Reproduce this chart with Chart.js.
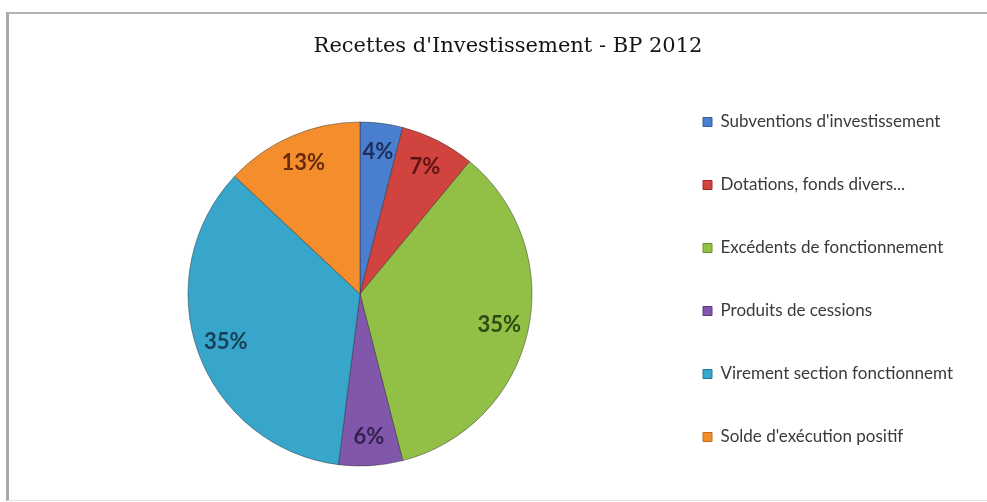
<!DOCTYPE html>
<html>
<head>
<meta charset="utf-8">
<script src="https://cdn.jsdelivr.net/npm/chart.js@4.4.1/dist/chart.umd.min.js"></script>
<style>
  html, body { margin: 0; background: #fff; }
  #frame { position: absolute; left: 6px; top: 12px; width: 990px; height: 486px;
           border-left: 3px solid #a9a9a9; border-top: 2px solid #b4b4b4; border-bottom: 1px solid #e4e4e4; }
  #wrap { position: absolute; left: 9px; top: 14px; width: 978px; height: 486px; }
</style>
</head>
<body>
<div id="frame"></div>
<div id="wrap"><canvas id="pieChart"></canvas></div>
<script>
'use strict';

const categories = [
  "Subventions d'investissement",
  'Dotations, fonds divers...',
  'Excédents de fonctionnement',
  'Produits de cessions',
  'Virement section fonctionnemt',
  "Solde d'exécution positif",
];
const shares = [4, 7, 35, 6, 35, 13];

const baseColors  = ['#4A7FD0', '#D1433F', '#92BF45', '#8157AC', '#38A5CB', '#F48E2C'];
const lightColors = ['#7FA8E6', '#E67572', '#B5DA72', '#A683CC', '#6FC6E2', '#FBB168'];
const darkColors  = ['#2F5C9E', '#9E2A27', '#6A9128', '#5C3A82', '#22789A', '#C8681A'];
const textColors  = ['#1B2F5C', '#5C1414', '#2F4A12', '#35204F', '#173E55', '#6A2A0C'];

function sliceFill(ctx) {
  const i = ctx.dataIndex;
  const chart = ctx.chart;
  const arc = chart.getDatasetMeta(0).data[i];
  if (!arc || !arc.outerRadius) return baseColors[i];
  const {x, y, outerRadius: r} = arc;
  const g = chart.ctx.createRadialGradient(x - r * 0.15, y - r * 0.25, r * 0.05, x, y, r);
  g.addColorStop(0, lightColors[i]);
  g.addColorStop(0.6, baseColors[i]);
  g.addColorStop(1, darkColors[i]);
  return g;
}

// percentages written on the slices
const sliceLabels = {
  id: 'sliceLabels',
  afterDatasetsDraw(chart) {
    const ctx = chart.ctx;
    ctx.save();
    ctx.font = 'bold 22px Lato';
    ctx.textAlign = 'center';
    ctx.textBaseline = 'middle';
    chart.getDatasetMeta(0).data.forEach((arc, i) => {
      const {x, y, startAngle, endAngle, outerRadius} = arc.getProps(['x', 'y', 'startAngle', 'endAngle', 'outerRadius'], true);
      const mid = (startAngle + endAngle) / 2;
      const d = outerRadius * 0.83;
      ctx.fillStyle = textColors[i];
      ctx.fillText(shares[i] + '%', x + Math.cos(mid) * d, y + Math.sin(mid) * d);
    });
    ctx.restore();
  },
};

new Chart(document.getElementById('pieChart'), {
  type: 'pie',
  data: {
    labels: categories,
    datasets: [{
      data: shares,
      backgroundColor: sliceFill,
      borderColor: 'rgba(40,40,40,0.45)',
      borderWidth: 1,
      radius: 172,
    }],
  },
  options: {
    responsive: true,
    maintainAspectRatio: false,
    animation: false,
    devicePixelRatio: 1,
    layout: { padding: { left: 54, right: 34, top: 0, bottom: 8.5 } },
    plugins: {
      tooltip: { enabled: false },
      title: {
        display: true,
        text: "Recettes d'Investissement - BP 2012",
        color: '#141414',
        font: { family: 'DejaVu Serif', size: 21, weight: 'normal' },
        padding: { top: 20, bottom: 37.3 },
      },
      legend: {
        position: 'right',
        align: 'end',
        maxWidth: 296,
        labels: {
          color: '#3a3a3a',
          font: { family: 'Lato', size: 17 },
          boxWidth: 9,
          boxHeight: 9,
          padding: 46,
          generateLabels(chart) {
            const items = Chart.overrides.pie.plugins.legend.labels.generateLabels(chart);
            return items.map((it, i) => Object.assign(it, {
              fillStyle: baseColors[i], strokeStyle: darkColors[i], lineWidth: 1,
            }));
          },
        },
      },
    },
  },
  plugins: [sliceLabels],
});
</script>
</body>
</html>
